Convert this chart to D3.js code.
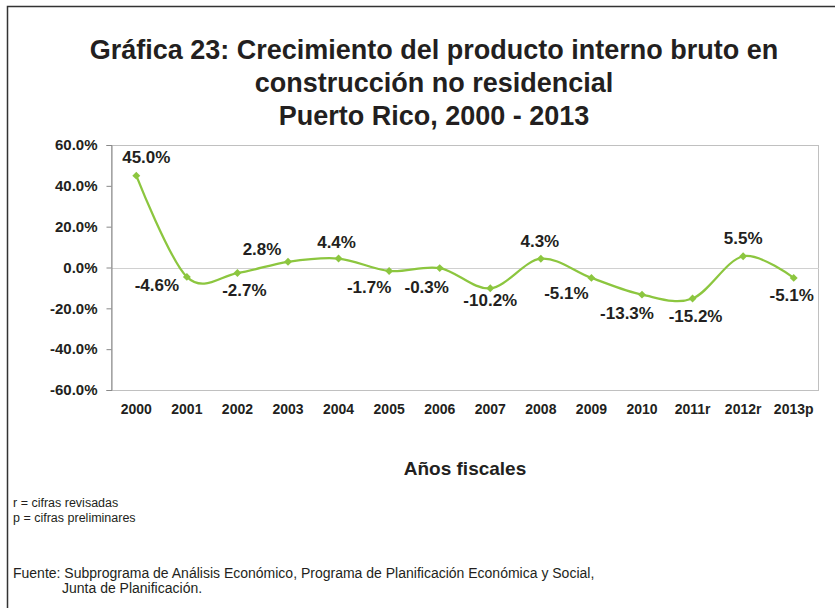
<!DOCTYPE html>
<html>
<head>
<meta charset="utf-8">
<script src="https://cdn.jsdelivr.net/npm/d3@7"></script>
<style>
  html, body { margin: 0; padding: 0; background: #fff; }
  svg { display: block; font-family: Arial, "Liberation Sans", sans-serif; }
</style>
</head>
<body>
<svg id="chart" width="835" height="608"></svg>
<script>
// ---- data ----
const categories = ["2000","2001","2002","2003","2004","2005","2006","2007","2008","2009","2010","2011r","2012r","2013p"];
const growth = [45.0, -4.6, -2.7, 2.8, 4.4, -1.7, -0.3, -10.2, 4.3, -5.1, -13.3, -15.2, 5.5, -5.1];
const yTicks = [-60, -40, -20, 0, 20, 40, 60];
// label offsets (dx, dy) from each point, as placed in the original
const labelDx = [10, -30, 7, -26, -2, -20, -13, 0, -1, -25, -15, 3, 0, -2];
const labelDy = [-19, 8, 17, -13, -16, 16, 19, 12, -18, 15, 18, 18, -18, 17];

const titleLines = ["Gráfica 23: Crecimiento del producto interno bruto en", "construcción no residencial", "Puerto Rico, 2000 - 2013"];
const xTitle = "Años fiscales";
const notes = ["r = cifras revisadas", "p = cifras preliminares"];
const source = ["Fuente: Subprograma de Análisis Económico, Programa de Planificación Económica y Social,", "Junta de Planificación."];

// ---- layout ----
const svg = d3.select("#chart");
const plot = { left: 111, right: 819, top: 145, bottom: 390 };
const green = "#8cc63f";
const ink = "#231f20";

// outer frame (left and top edges)
svg.append("path")
  .attr("d", "M7.5,608 V6.5 H835")
  .attr("fill", "none").attr("stroke", "#333").attr("stroke-width", 1.5);

const x = d3.scaleBand().domain(categories).range([plot.left, plot.right]);
const y = d3.scaleLinear().domain([-60, 60]).range([plot.bottom, plot.top]);

// plot area border
svg.append("rect")
  .attr("x", plot.left + 0.5).attr("y", plot.top + 0.5)
  .attr("width", plot.right - plot.left - 1).attr("height", plot.bottom - plot.top)
  .attr("fill", "none").attr("stroke", "#c0c0c0").attr("stroke-width", 1);

// zero line
svg.append("line")
  .attr("x1", plot.left).attr("x2", plot.right)
  .attr("y1", Math.round(y(0)) + 0.5).attr("y2", Math.round(y(0)) + 0.5)
  .attr("stroke", "#d0d0d0").attr("stroke-width", 1);

// y axis
const yAxis = d3.axisLeft(y).tickValues(yTicks).tickSize(5).tickPadding(9)
  .tickFormat(d => d.toFixed(1) + "%");
const gy = svg.append("g").attr("transform", `translate(${plot.left + 0.5},0)`).call(yAxis);
gy.select(".domain").attr("stroke", "#888");
gy.selectAll(".tick line").attr("stroke", "#888");
gy.selectAll("text").attr("font-size", 15).attr("font-weight", "bold").attr("fill", ink)
  .attr("font-family", "Arial, 'Liberation Sans', sans-serif");

// x axis labels
const xAxis = d3.axisBottom(x).tickSize(0).tickPadding(14);
const gx = svg.append("g").attr("transform", `translate(0,${plot.bottom})`).call(xAxis);
gx.select(".domain").remove();
gx.selectAll("text").attr("font-size", 14).attr("font-weight", "bold").attr("fill", ink)
  .attr("font-family", "Arial, 'Liberation Sans', sans-serif");

// line
const cx = (d, i) => x(categories[i]) + x.bandwidth() / 2;
const line = d3.line().x((d, i) => cx(d, i)).y(d => y(d)).curve(d3.curveCardinal.tension(0));
svg.append("path").datum(growth)
  .attr("d", line).attr("fill", "none").attr("stroke", green).attr("stroke-width", 2.25);

// markers (diamonds)
svg.selectAll(".mk").data(growth).enter().append("path")
  .attr("class", "mk")
  .attr("transform", (d, i) => `translate(${cx(d, i)},${y(d)})`)
  .attr("d", d3.symbol().type(d3.symbolDiamond2).size(40))
  .attr("fill", green);

// data labels
svg.selectAll(".lbl").data(growth).enter().append("text")
  .attr("class", "lbl")
  .attr("x", (d, i) => cx(d, i) + labelDx[i])
  .attr("y", (d, i) => y(d) + labelDy[i])
  .attr("dy", "0.35em")
  .attr("text-anchor", "middle")
  .attr("font-size", 17).attr("font-weight", "bold").attr("fill", ink)
  .text(d => d.toFixed(1) + "%");

// title
svg.append("g").selectAll("text").data(titleLines).enter().append("text")
  .attr("x", 434).attr("y", (d, i) => 59 + i * 33)
  .attr("text-anchor", "middle")
  .attr("font-size", 27).attr("font-weight", "bold").attr("fill", ink)
  .text(d => d);

// x axis title
svg.append("text").attr("x", 465).attr("y", 475)
  .attr("text-anchor", "middle")
  .attr("font-size", 19).attr("font-weight", "bold").attr("fill", ink)
  .text(xTitle);

// notes
svg.append("g").selectAll("text").data(notes).enter().append("text")
  .attr("x", 13).attr("y", (d, i) => 507 + i * 15)
  .attr("font-size", 12.5).attr("fill", ink)
  .text(d => d);

svg.append("text").attr("x", 13).attr("y", 578)
  .attr("font-size", 14).attr("fill", ink).text(source[0]);
svg.append("text").attr("x", 62).attr("y", 593)
  .attr("font-size", 14).attr("fill", ink).text(source[1]);
</script>
</body>
</html>
